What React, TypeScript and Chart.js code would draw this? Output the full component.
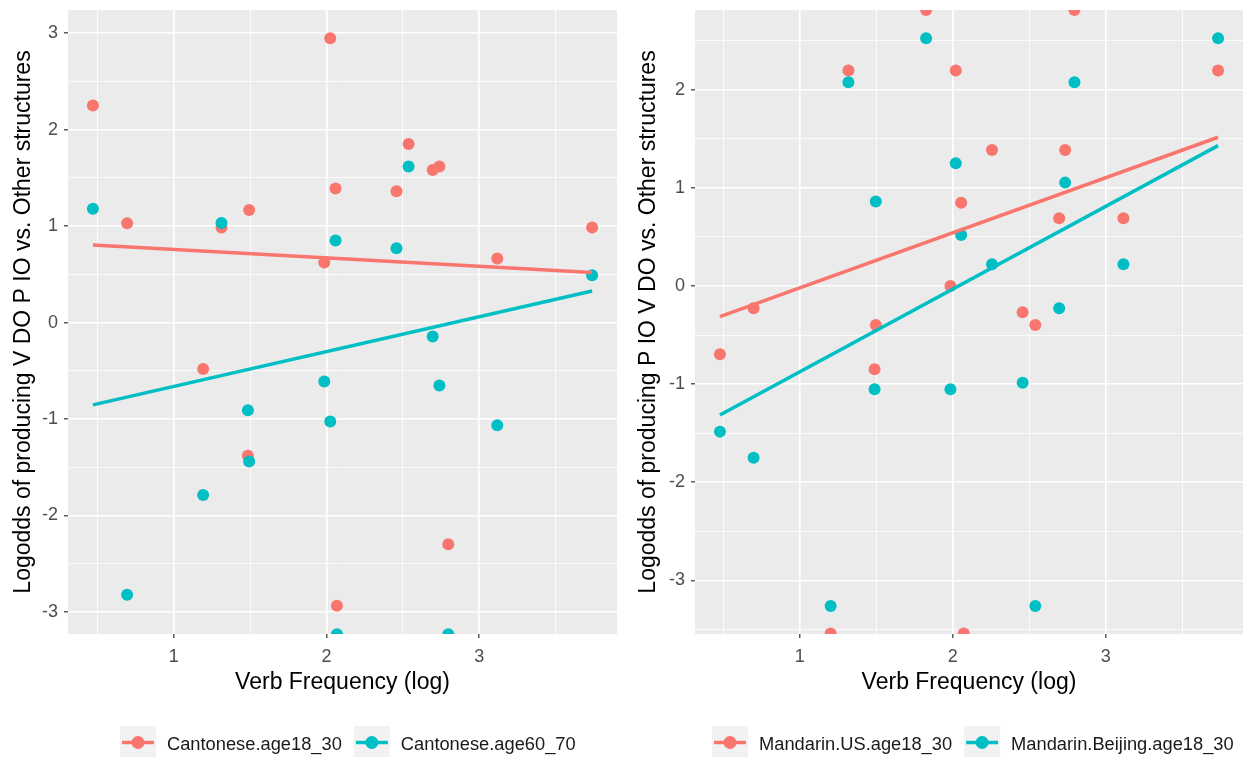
import React, { useEffect, useRef } from 'react';
import { Chart, registerables } from 'chart.js';

Chart.register(...registerables);

const FONT = '"Liberation Sans", Arial, Helvetica, sans-serif';
const RED = '#F8766D';
const TEAL = '#00BFC4';

// ---------- Left panel: Cantonese ----------
const cantoneseVerbFreq = [0.47, 0.694, 1.192, 1.312, 1.493, 1.485, 1.985, 2.024, 2.059, 2.068, 2.458, 2.537, 2.695, 2.739, 2.797, 3.118, 3.739];
const cantoneseAge18_30 = [2.25, 1.03, -0.48, 0.985, 1.168, -1.381, 0.622, 2.947, 1.389, -2.936, 1.362, 1.852, 1.582, 1.617, -2.297, 0.663, 0.985];
const cantoneseAge60_70 = [1.181, -2.82, -1.786, 1.033, -1.44, -0.908, -0.611, -1.026, 0.85, -3.23, 0.771, 1.617, -0.145, -0.653, -3.23, -1.064, 0.491];
const cantoneseFitX = [0.47, 3.739];
const cantoneseFit18_30 = [0.805, 0.518];
const cantoneseFit60_70 = [-0.853, 0.328];
const cantoneseXRange = [0.307, 3.902];
const cantoneseYRange = [-3.228, 3.24];
const cantoneseYTicks = [-3, -2.5, -2, -1.5, -1, -0.5, 0, 0.5, 1, 1.5, 2, 2.5, 3];

// ---------- Right panel: Mandarin ----------
const mandarinVerbFreq = [0.478, 0.698, 1.202, 1.318, 1.489, 1.497, 1.826, 1.985, 2.02, 2.055, 2.072, 2.257, 2.457, 2.54, 2.696, 2.735, 2.796, 3.116, 3.735];
const mandarinUSAge18_30 = [-0.696, -0.227, -3.54, 2.193, -0.848, -0.397, 2.81, 0, 2.193, 0.848, -3.54, 1.385, -0.268, -0.397, 0.689, 1.385, 2.81, 0.689, 2.193];
const mandarinBeijingAge18_30 = [-1.484, -1.749, -3.259, 2.075, -1.052, 0.859, 2.522, -1.052, 1.249, 0.519, null, 0.221, -0.985, -3.259, -0.227, 1.052, 2.075, 0.221, 2.522];
const mandarinFitX = [0.478, 3.735];
const mandarinFitUS = [-0.313, 1.514];
const mandarinFitBeijing = [-1.314, 1.429];
const mandarinXRange = [0.315, 3.898];
const mandarinYRange = [-3.545, 2.81];
const mandarinYTicks = [-3.5, -3, -2.5, -2, -1.5, -1, -0.5, 0, 0.5, 1, 1.5, 2, 2.5];

const xTicks = [0.5, 1, 1.5, 2, 2.5, 3, 3.5];

const isMajor = (v: number) => Number.isInteger(v);

const panelBg = {
  id: 'panelBg',
  beforeDraw(chart: any) {
    const { ctx, chartArea } = chart;
    ctx.save();
    ctx.fillStyle = '#EBEBEB';
    ctx.fillRect(chartArea.left, chartArea.top, chartArea.right - chartArea.left, chartArea.bottom - chartArea.top);
    ctx.restore();
  },
};

const ggLegend = {
  id: 'ggLegend',
  afterDraw(chart: any, _args: any, opts: any) {
    const ctx = chart.ctx;
    const items = chart.data.datasets
      .filter((d: any) => d.legendOrder !== undefined)
      .sort((a: any, b: any) => a.legendOrder - b.legendOrder);
    ctx.save();
    ctx.font = `${opts.fontSize}px ${FONT}`;
    let x = opts.x;
    const top = opts.top;
    const bw = opts.boxWidth;
    const bh = opts.boxHeight;
    const cy = top + bh / 2;
    for (const it of items) {
      ctx.fillStyle = '#F2F2F2';
      ctx.fillRect(x, top, bw, bh);
      ctx.strokeStyle = it.backgroundColor;
      ctx.lineWidth = 3.5;
      ctx.beginPath();
      ctx.moveTo(x + 2, cy);
      ctx.lineTo(x + bw - 2, cy);
      ctx.stroke();
      ctx.fillStyle = it.backgroundColor;
      ctx.beginPath();
      ctx.arc(x + bw / 2, cy, 6.5, 0, Math.PI * 2);
      ctx.fill();
      ctx.fillStyle = '#1A1A1A';
      ctx.textAlign = 'left';
      ctx.textBaseline = 'middle';
      ctx.fillText(it.label, x + bw + 11, cy + 2);
      x += bw + 11 + ctx.measureText(it.label).width + 12;
    }
    ctx.restore();
  },
};

type PanelProps = {
  xs: number[];
  seriesA: (number | null)[];
  seriesB: (number | null)[];
  labelA: string;
  labelB: string;
  fitX: number[];
  fitA: number[];
  fitB: number[];
  xRange: number[];
  yRange: number[];
  yTicks: number[];
  yTitle: string;
  width: number;
  yAxisWidth: number;
  rightPad: number;
  legendX: number;
};

function Panel(p: PanelProps) {
  const ref = useRef<HTMLCanvasElement | null>(null);
  useEffect(() => {
    if (!ref.current) return;
    const pts = (ys: (number | null)[]) => p.xs.map((x, i) => ({ x, y: ys[i] })).filter((d) => d.y !== null);
    const line = (ys: number[]) => p.fitX.map((x, i) => ({ x, y: ys[i] }));
    const gridCommon = {
      color: '#FFFFFF',
      lineWidth: (c: any) => (c.tick && isMajor(c.tick.value) ? 1.6 : 0.8),
      drawTicks: true,
      tickLength: 4,
      tickColor: (c: any) => (c.tick && isMajor(c.tick.value) ? '#333333' : 'rgba(0,0,0,0)'),
      tickWidth: (c: any) => (c.tick && isMajor(c.tick.value) ? 1.2 : 0),
    };
    const chart = new Chart(ref.current, {
      type: 'scatter',
      data: {
        datasets: [
          { label: 'fitA', data: line(p.fitA), showLine: true, borderColor: RED, borderWidth: 3.5, pointRadius: 0, clip: 0 } as any,
          { label: 'fitB', data: line(p.fitB), showLine: true, borderColor: TEAL, borderWidth: 3.5, pointRadius: 0, clip: 0 } as any,
          { label: p.labelB, legendOrder: 2, data: pts(p.seriesB), backgroundColor: TEAL, borderWidth: 0, pointRadius: 6, clip: 0 } as any,
          { label: p.labelA, legendOrder: 1, data: pts(p.seriesA), backgroundColor: RED, borderWidth: 0, pointRadius: 6, clip: 0 } as any,
        ],
      },
      options: {
        responsive: false,
        animation: false,
        events: [],
        layout: { padding: { top: 10, left: 0, right: p.rightPad, bottom: 61 } },
        plugins: {
          legend: { display: false },
          tooltip: { enabled: false },
          ggLegend: { x: p.legendX, top: 726, boxWidth: 36, boxHeight: 33, fontSize: 18.3 },
        } as any,
        scales: {
          x: {
            type: 'linear',
            position: 'bottom',
            min: p.xRange[0],
            max: p.xRange[1],
            afterBuildTicks: (s: any) => {
              s.ticks = xTicks.map((v) => ({ value: v }));
            },
            afterFit: (s: any) => {
              s.height = 62;
              s.paddingLeft = 0;
              s.paddingRight = 0;
            },
            ticks: {
              autoSkip: false,
              maxRotation: 0,
              padding: 8,
              color: '#4D4D4D',
              font: { size: 18, family: FONT },
              callback: (v: any) => (isMajor(Number(v)) ? String(v) : ''),
            },
            grid: gridCommon as any,
            border: { display: false },
            title: {
              display: true,
              text: 'Verb Frequency (log)',
              color: '#000000',
              font: { size: 23, family: FONT },
              padding: { top: 0, bottom: 0 },
            },
          },
          y: {
            type: 'linear',
            position: 'left',
            min: p.yRange[0],
            max: p.yRange[1],
            afterBuildTicks: (s: any) => {
              s.ticks = p.yTicks.map((v) => ({ value: v }));
            },
            afterFit: (s: any) => {
              s.width = p.yAxisWidth;
              s.paddingTop = 0;
              s.paddingBottom = 0;
            },
            ticks: {
              autoSkip: false,
              padding: 6,
              color: '#4D4D4D',
              font: { size: 18, family: FONT },
              callback: (v: any) => (isMajor(Number(v)) ? String(v) : ''),
            },
            grid: gridCommon as any,
            border: { display: false },
            title: {
              display: true,
              text: p.yTitle,
              color: '#000000',
              font: { size: 23, family: FONT },
              padding: { top: 10, bottom: 0 },
            },
          },
        },
      },
      plugins: [panelBg, ggLegend],
    });
    return () => chart.destroy();
  }, []);
  return <canvas ref={ref} width={p.width} height={757} style={{ display: 'block' }} />;
}

export default function App() {
  return (
    <div style={{ position: 'fixed', left: 0, top: 0, width: 1249, height: 757, background: '#FFFFFF', overflow: 'hidden' }}>
      <div style={{ position: 'absolute', left: 0, top: 0 }}>
        <Panel
          xs={cantoneseVerbFreq}
          seriesA={cantoneseAge18_30}
          seriesB={cantoneseAge60_70}
          labelA="Cantonese.age18_30"
          labelB="Cantonese.age60_70"
          fitX={cantoneseFitX}
          fitA={cantoneseFit18_30}
          fitB={cantoneseFit60_70}
          xRange={cantoneseXRange}
          yRange={cantoneseYRange}
          yTicks={cantoneseYTicks}
          yTitle="Logodds of producing V DO P IO vs. Other structures"
          width={625}
          yAxisWidth={68}
          rightPad={8}
          legendX={120}
        />
      </div>
      <div style={{ position: 'absolute', left: 625, top: 0 }}>
        <Panel
          xs={mandarinVerbFreq}
          seriesA={mandarinUSAge18_30}
          seriesB={mandarinBeijingAge18_30}
          labelA="Mandarin.US.age18_30"
          labelB="Mandarin.Beijing.age18_30"
          fitX={mandarinFitX}
          fitA={mandarinFitUS}
          fitB={mandarinFitBeijing}
          xRange={mandarinXRange}
          yRange={mandarinYRange}
          yTicks={mandarinYTicks}
          yTitle="Logodds of producing P IO V DO vs. Other structures"
          width={624}
          yAxisWidth={70}
          rightPad={5}
          legendX={87}
        />
      </div>
    </div>
  );
}
